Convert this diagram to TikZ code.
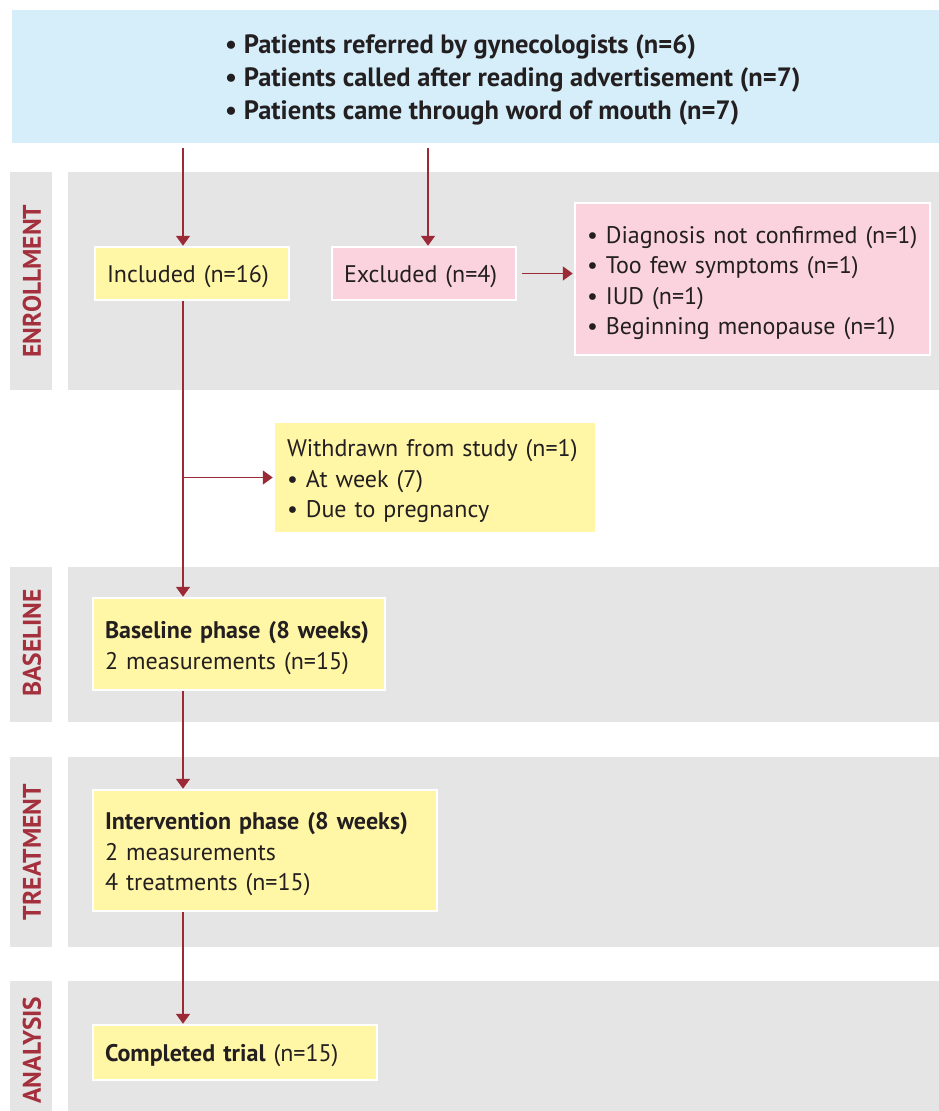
\documentclass[tikz,border=0pt]{standalone}
\usepackage{fontspec}
\setmainfont{PT Sans}
\usetikzlibrary{arrows.meta,positioning}
\definecolor{topblue}{HTML}{D5EEFA}
\definecolor{panelgray}{HTML}{E5E5E5}
\definecolor{boxyellow}{HTML}{FFF6A6}
\definecolor{boxpink}{HTML}{FAD3DE}
\definecolor{arrowred}{HTML}{9A2A36}
\definecolor{labred}{HTML}{A3303C}
\definecolor{txt}{HTML}{231F20}
\newcommand\mystrut{\rule{0pt}{25pt}}
\tikzset{
  panel/.style={fill=panelgray, draw=none, inner sep=0pt, anchor=north west},
  boxbase/.style={draw=white, line width=2.5pt, inner xsep=12pt, inner ysep=4pt, align=left, text=txt,
     font=\fontsize{24}{30.5}\selectfont},
  ybox/.style={boxbase, fill=boxyellow},
  pbox/.style={boxbase, fill=boxpink},
  oneline/.style={text depth=0pt},
  lab/.style={rotate=90, text=labred, font=\bfseries\fontsize{25.5}{28}\selectfont, inner sep=0pt},
  arr/.style={draw=arrowred, line width=1.7pt, -{Triangle[width=14pt,length=10pt]}},
}
\begin{document}
\begin{tikzpicture}[x=1pt,y=-1pt]
\useasboundingbox (0,0) rectangle (939,1111);
% top box
\node[fill=topblue, inner sep=0pt, minimum width=927, minimum height=133, anchor=north west] (topbg) at (12,10) {};
\node[anchor=west, align=left, text=txt, inner sep=0pt, font=\bfseries\fontsize{26.5}{33}\selectfont] (toptext) at (225,80)
  {• Patients referred by gynecologists (n=6)\\
   • Patients called after reading advertisement (n=7)\\
   • Patients came through word of mouth (n=7)};
% phase panels
\node[panel, minimum width=42, minimum height=218] (enrL) at (10,172) {};
\node[panel, minimum width=871, minimum height=218] (enrP) at (68,172) {};
\node[panel, minimum width=42, minimum height=155] (basL) at (10,567) {};
\node[panel, minimum width=871, minimum height=155] (basP) at (68,567) {};
\node[panel, minimum width=42, minimum height=190] (trtL) at (10,757) {};
\node[panel, minimum width=871, minimum height=190] (trtP) at (68,757) {};
\node[panel, minimum width=42, minimum height=130] (anaL) at (10,981) {};
\node[panel, minimum width=871, minimum height=130] (anaP) at (68,981) {};
\node[lab] (enrT) at (32,281) {ENROLLMENT};
\node[lab] (basT) at (32,643) {BASELINE};
\node[lab] (trtT) at (32,852) {TREATMENT};
\node[lab] (anaT) at (32,1050) {ANALYSIS};
% boxes
\node[ybox, oneline, text width=170, minimum height=53] (inc) at (192,273.5) {Included (n=16)};
\node[pbox, oneline, text width=160, minimum height=53] (exc) at (424,273.5) {Excluded (n=4)};
\node[pbox, text width=331, minimum height=152] (rea) at (752.5,279)
  {\mystrut• Diagnosis not confirmed (n=1)\\ • Too few symptoms (n=1)\\ • IUD (n=1)\\ • Beginning menopause (n=1)};
\node[ybox, draw=none, text width=296, minimum height=109] (wd) at (435,477.5)
  {\mystrut Withdrawn from study (n=1)\\ • At week (7)\\ • Due to pregnancy};
\node[ybox, text width=268, minimum height=92] (base) at (239,644)
  {\mystrut\textbf{Baseline phase (8 weeks)}\\ 2 measurements (n=15)};
\node[ybox, text width=320, minimum height=121] (int) at (265,850.5)
  {\mystrut\textbf{Intervention phase (8 weeks)}\\ 2 measurements\\ 4 treatments (n=15)};
\node[ybox, oneline, text width=260, minimum height=55] (comp) at (235,1052.5)
  {\textbf{Completed trial} (n=15)};
% connectors
\coordinate (spine) at (183,0);
\coordinate (s1) at (spine |- topbg.south);
\coordinate (s2) at (428,0 |- topbg.south);
\draw[arr, shorten <=5pt] (s1) -- (spine |- inc.north);
\draw[arr, shorten <=5pt] (s2) -- (s2 |- exc.north);
\draw[arr, shorten <=5pt, shorten >=1pt] (exc.east) -- (rea.west |- exc.east);
\draw[arr] (spine |- inc.south) -- (spine |- base.north);
\coordinate (br) at (spine |- wd.west);
\draw[arr, shorten >=1pt] (br) -- (wd.west);
\draw[arr] (spine |- base.south) -- (spine |- int.north);
\draw[arr] (spine |- int.south) -- (spine |- comp.north);
\end{tikzpicture}
\end{document}
